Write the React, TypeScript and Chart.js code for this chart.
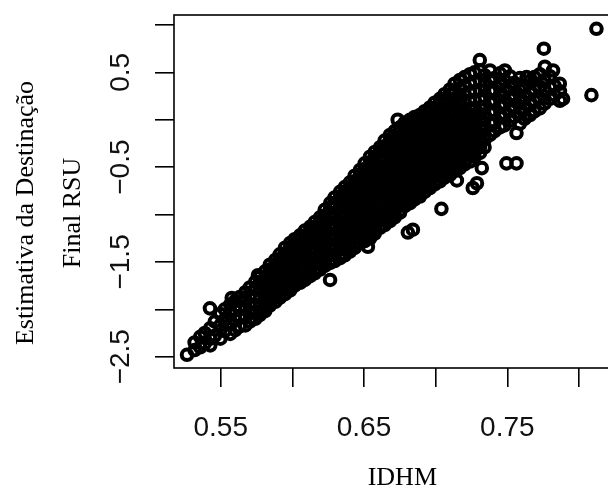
import React, { useEffect, useRef } from "react";
import { Chart, registerables } from "chart.js";

Chart.register(...registerables);

// ---- Data (IDHM vs. Estimativa da Destinação Final RSU) ----
// Each entry: [IDHM, list of RSU values seen around that IDHM]
const lowerTail: [number, number[]][] = [
  [0.5318, [-2.43, -2.35]],
  [0.5357, [-2.40, -2.29]],
  [0.5389, [-2.36, -2.25]],
  [0.5427, [-2.31, -2.20, -2.38]],
  [0.5459, [-2.13, -2.28]],
  [0.5497, [-2.05, -2.17, -2.31]],
  [0.5528, [-2.00, -2.11, -2.23]],
  [0.5566, [-1.95, -2.05, -2.16, -2.26]],
  [0.5601, [-1.91, -2.01, -2.11, -2.22]],
  [0.5633, [-1.87, -1.97, -2.07, -2.18]],
  [0.5672, [-1.82, -1.91, -2.00, -2.09, -2.17]],
  [0.5703, [-1.77, -1.86, -1.95, -2.04, -2.13]],
  [0.5741, [-1.71, -1.79, -1.87, -1.95, -2.03, -2.10]],
  [0.5772, [-1.66, -1.73, -1.80, -1.88, -1.95, -2.02, -2.06]],
];

const denseCore: [number, number[]][] = [
  [0.5810, [-1.60, -1.66, -1.71, -1.77, -1.82, -1.87, -1.93, -1.98, -2.02]],
  [0.5843, [-1.53, -1.58, -1.64, -1.69, -1.74, -1.80, -1.85, -1.90, -1.96]],
  [0.5881, [-1.48, -1.54, -1.60, -1.65, -1.71, -1.76, -1.82, -1.87, -1.92]],
  [0.5912, [-1.42, -1.47, -1.53, -1.58, -1.63, -1.69, -1.74, -1.79, -1.84, -1.88]],
  [0.5949, [-1.35, -1.41, -1.46, -1.52, -1.57, -1.62, -1.68, -1.73, -1.78, -1.84]],
  [0.5985, [-1.30, -1.35, -1.40, -1.46, -1.51, -1.56, -1.62, -1.67, -1.72, -1.77, -1.80]],
  [0.6016, [-1.26, -1.32, -1.37, -1.43, -1.48, -1.54, -1.59, -1.64, -1.70, -1.75]],
  [0.6054, [-1.22, -1.27, -1.33, -1.38, -1.44, -1.49, -1.55, -1.60, -1.66, -1.72]],
  [0.6087, [-1.17, -1.23, -1.28, -1.34, -1.39, -1.45, -1.50, -1.56, -1.61, -1.66, -1.69]],
  [0.6124, [-1.13, -1.18, -1.24, -1.29, -1.35, -1.40, -1.46, -1.51, -1.57, -1.62, -1.65]],
  [0.6156, [-1.08, -1.14, -1.19, -1.25, -1.30, -1.36, -1.41, -1.47, -1.52, -1.58, -1.62]],
  [0.6193, [-1.03, -1.08, -1.14, -1.19, -1.25, -1.30, -1.36, -1.41, -1.47, -1.52, -1.58]],
  [0.6226, [-0.95, -1.01, -1.06, -1.12, -1.17, -1.23, -1.28, -1.34, -1.39, -1.45, -1.50, -1.54]],
  [0.6264, [-0.88, -0.93, -0.99, -1.04, -1.10, -1.15, -1.21, -1.26, -1.32, -1.37, -1.43, -1.48, -1.51]],
  [0.6295, [-0.82, -0.88, -0.93, -0.99, -1.04, -1.10, -1.15, -1.21, -1.26, -1.32, -1.37, -1.43, -1.49]],
  [0.6333, [-0.76, -0.81, -0.87, -0.92, -0.98, -1.03, -1.09, -1.14, -1.20, -1.25, -1.31, -1.36, -1.42, -1.46]],
  [0.6366, [-0.71, -0.77, -0.82, -0.88, -0.93, -0.99, -1.04, -1.10, -1.15, -1.21, -1.26, -1.32, -1.37, -1.43]],
  [0.6402, [-0.66, -0.71, -0.77, -0.82, -0.88, -0.93, -0.99, -1.04, -1.10, -1.15, -1.21, -1.26, -1.32, -1.37, -1.39]],
  [0.6435, [-0.59, -0.65, -0.70, -0.76, -0.81, -0.87, -0.92, -0.98, -1.03, -1.09, -1.14, -1.20, -1.25, -1.31, -1.35]],
  [0.6472, [-0.53, -0.58, -0.64, -0.69, -0.75, -0.80, -0.86, -0.91, -0.97, -1.02, -1.08, -1.13, -1.19, -1.24, -1.30]],
  [0.6505, [-0.46, -0.52, -0.57, -0.63, -0.68, -0.74, -0.79, -0.85, -0.90, -0.96, -1.01, -1.07, -1.12, -1.18, -1.23, -1.28]],
  [0.6542, [-0.39, -0.45, -0.50, -0.56, -0.61, -0.67, -0.72, -0.78, -0.83, -0.89, -0.94, -1.00, -1.05, -1.11, -1.16, -1.22, -1.25]],
  [0.6575, [-0.34, -0.40, -0.45, -0.51, -0.56, -0.62, -0.67, -0.73, -0.78, -0.84, -0.89, -0.95, -1.00, -1.06, -1.11, -1.17, -1.20]],
  [0.6612, [-0.29, -0.34, -0.40, -0.45, -0.51, -0.56, -0.62, -0.67, -0.73, -0.78, -0.84, -0.89, -0.95, -1.00, -1.06, -1.11, -1.14]],
  [0.6644, [-0.22, -0.28, -0.33, -0.39, -0.44, -0.50, -0.55, -0.61, -0.66, -0.72, -0.77, -0.83, -0.88, -0.94, -0.99, -1.05, -1.11]],
  [0.6681, [-0.16, -0.21, -0.27, -0.32, -0.38, -0.43, -0.49, -0.54, -0.60, -0.65, -0.71, -0.76, -0.82, -0.87, -0.93, -0.98, -1.04, -1.07]],
  [0.6714, [-0.12, -0.18, -0.23, -0.29, -0.34, -0.40, -0.45, -0.51, -0.56, -0.62, -0.67, -0.73, -0.78, -0.84, -0.89, -0.95, -1.00, -1.03]],
  [0.6751, [-0.08, -0.13, -0.19, -0.24, -0.30, -0.35, -0.41, -0.46, -0.52, -0.57, -0.63, -0.68, -0.74, -0.79, -0.85, -0.90, -0.96, -0.98]],
  [0.6784, [-0.03, -0.09, -0.14, -0.20, -0.25, -0.31, -0.36, -0.42, -0.47, -0.53, -0.58, -0.64, -0.69, -0.75, -0.80, -0.86, -0.91]],
  [0.6821, [0.00, -0.05, -0.11, -0.16, -0.22, -0.27, -0.33, -0.38, -0.44, -0.49, -0.55, -0.60, -0.66, -0.71, -0.77, -0.82, -0.88]],
  [0.6853, [0.03, -0.03, -0.08, -0.14, -0.19, -0.25, -0.30, -0.36, -0.41, -0.47, -0.52, -0.58, -0.63, -0.69, -0.74, -0.80, -0.84]],
  [0.6890, [0.05, 0.00, -0.06, -0.11, -0.17, -0.22, -0.28, -0.33, -0.39, -0.44, -0.50, -0.55, -0.61, -0.66, -0.72, -0.77, -0.81]],
  [0.6923, [0.09, 0.03, -0.02, -0.08, -0.13, -0.19, -0.24, -0.30, -0.35, -0.41, -0.46, -0.52, -0.57, -0.63, -0.68, -0.74, -0.76]],
  [0.6960, [0.13, 0.08, 0.02, -0.03, -0.09, -0.14, -0.20, -0.25, -0.31, -0.36, -0.42, -0.47, -0.53, -0.58, -0.64, -0.69, -0.72]],
  [0.6993, [0.18, 0.12, 0.07, 0.01, -0.04, -0.10, -0.15, -0.21, -0.26, -0.32, -0.37, -0.43, -0.48, -0.54, -0.59, -0.65, -0.68]],
  [0.7030, [0.22, 0.17, 0.11, 0.06, 0.00, -0.05, -0.11, -0.16, -0.22, -0.27, -0.33, -0.38, -0.44, -0.49, -0.55, -0.60, -0.65]],
  [0.7062, [0.27, 0.21, 0.16, 0.10, 0.05, -0.01, -0.06, -0.12, -0.17, -0.23, -0.28, -0.34, -0.39, -0.45, -0.50, -0.56, -0.61]],
  [0.7100, [0.32, 0.27, 0.21, 0.16, 0.10, 0.05, -0.01, -0.06, -0.12, -0.17, -0.23, -0.28, -0.34, -0.39, -0.45, -0.50, -0.55, -0.58]],
  [0.7132, [0.38, 0.30, 0.22, 0.15, 0.08, 0.01, -0.05, -0.10, -0.16, -0.21, -0.27, -0.32, -0.38, -0.44, -0.50, -0.54]],
  [0.7169, [0.42, 0.33, 0.25, 0.17, 0.10, 0.03, -0.03, -0.08, -0.14, -0.19, -0.25, -0.30, -0.36, -0.42, -0.47, -0.51]],
  [0.7202, [0.45, 0.36, 0.27, 0.19, 0.11, 0.04, -0.02, -0.08, -0.14, -0.20, -0.26, -0.32, -0.38, -0.43, -0.47]],
  [0.7239, [0.48, 0.38, 0.29, 0.20, 0.12, 0.05, -0.01, -0.07, -0.13, -0.19, -0.25, -0.31, -0.37, -0.44]],
  [0.7271, [0.50, 0.40, 0.30, 0.21, 0.12, 0.05, -0.02, -0.08, -0.14, -0.21, -0.27, -0.33, -0.39]],
  [0.7309, [0.52, 0.41, 0.31, 0.21, 0.13, 0.06, -0.01, -0.08, -0.15, -0.22, -0.29, -0.35]],
];

const upperCloud: [number, number[]][] = [
  [0.7341, [0.47, 0.36, 0.24, 0.13, 0.02, -0.10, -0.21, -0.29]],
  [0.7379, [0.52, 0.41, 0.30, 0.18, 0.07, -0.04, -0.16]],
  [0.7411, [0.44, 0.31, 0.20, 0.09, -0.03, -0.12]],
  [0.7448, [0.49, 0.37, 0.25, 0.14, 0.03, -0.08]],
  [0.7480, [0.42, 0.30, 0.17, 0.06, -0.06]],
  [0.7518, [0.46, 0.34, 0.22, 0.10, -0.01]],
  [0.7550, [0.39, 0.26, 0.14, 0.03]],
  [0.7588, [0.44, 0.31, 0.19, 0.07, -0.04]],
  [0.7620, [0.36, 0.24, 0.12, 0.01]],
  [0.7658, [0.41, 0.28, 0.16, 0.05]],
  [0.7689, [0.45, 0.32, 0.20, 0.09]],
  [0.7727, [0.48, 0.35, 0.23, 0.12]],
  [0.7759, [0.42, 0.30, 0.17]],
  [0.7797, [0.46, 0.34, 0.22]],
  [0.7829, [0.36, 0.26]],
  [0.7867, [0.30, 0.20]],
];

const outlierIdhm = [0.5265, 0.5425, 0.5577, 0.5760, 0.6263, 0.6527, 0.6806, 0.6841, 0.6735, 0.7040, 0.7259, 0.7322, 0.7148, 0.7288, 0.7494, 0.7564, 0.7564, 0.7308, 0.7483, 0.7634, 0.7755, 0.7762, 0.7819, 0.7866, 0.7889, 0.8087, 0.8122];
const outlierRsu = [-2.48, -1.99, -1.88, -1.64, -1.69, -1.34, -1.19, -1.16, 0.00, -0.94, -0.72, -0.51, -0.64, -0.67, -0.46, -0.46, -0.14, 0.63, 0.52, 0.45, 0.75, 0.56, 0.52, 0.38, 0.22, 0.26, 0.96];

// ---- Axes ----
const xTicks = [0.55, 0.6, 0.65, 0.7, 0.75, 0.8];
const xTickLabels = ["0.55", "", "0.65", "", "0.75", ""];
const yTicks = [-2.5, -2, -1.5, -1, -0.5, 0, 0.5, 1];
const yTickLabels = ["\u22122.5", "", "\u22121.5", "", "\u22120.5", "", "0.5", ""];
const xRange = [0.5174, 0.8361];
const yRange = [-2.6192, 1.1055];
const xTitle = "IDHM";
const yTitleLines = ["Estimativa da Destinação", "Final RSU"];

const SANS = "'Liberation Sans', Arial, Helvetica, sans-serif";
const SERIF = "'Liberation Serif', 'Times New Roman', Times, serif";

export default function App() {
  const ref = useRef<HTMLCanvasElement | null>(null);

  useEffect(() => {
    const canvas = ref.current;
    if (!canvas) return;

    const points: { x: number; y: number }[] = [];
    [lowerTail, denseCore, upperCloud].forEach((group) =>
      group.forEach(([x, ys]) => ys.forEach((y) => points.push({ x, y })))
    );
    outlierIdhm.forEach((x, i) => points.push({ x, y: outlierRsu[i] }));

    const textPlugin = {
      id: "rFrameAndText",
      afterDraw(chart: any) {
        const ctx = chart.ctx as CanvasRenderingContext2D;
        const ca = chart.chartArea;
        ctx.save();
        ctx.strokeStyle = "#000";
        ctx.lineWidth = 1.6;
        ctx.strokeRect(ca.left, ca.top, ca.right - ca.left, ca.bottom - ca.top);

        // y tick labels (rotated, R style)
        ctx.fillStyle = "#111";
        ctx.font = `28px ${SANS}`;
        ctx.textAlign = "center";
        ctx.textBaseline = "middle";
        const ys = chart.scales.y;
        yTicks.forEach((v, i) => {
          const lab = yTickLabels[i];
          if (!lab) return;
          const py = ys.getPixelForValue(v);
          ctx.save();
          ctx.translate(ca.left - 53, py);
          ctx.rotate(-Math.PI / 2);
          ctx.fillText(lab, 0, 0);
          ctx.restore();
        });

        // y title (two lines)
        ctx.fillStyle = "#000";
        ctx.font = `26px ${SERIF}`;
        ctx.textBaseline = "alphabetic";
        const baseX = [33, 80];
        yTitleLines.forEach((line, i) => {
          ctx.save();
          ctx.translate(baseX[i], 213);
          ctx.rotate(-Math.PI / 2);
          ctx.fillText(line, 0, 0);
          ctx.restore();
        });

        // x title
        ctx.textAlign = "center";
        ctx.fillText(xTitle, (ca.left + ca.right) / 2, 485);
        ctx.restore();
      },
    };

    const chart = new Chart(canvas, {
      type: "scatter",
      data: {
        datasets: [
          {
            data: points,
            pointStyle: "circle",
            pointRadius: 5.3,
            pointBorderWidth: 4.0,
            pointBorderColor: "#000",
            pointBackgroundColor: "rgba(0,0,0,0)",
            showLine: false,
          } as any,
        ],
      },
      options: {
        responsive: false,
        animation: false,
        events: [],
        layout: { padding: { left: 0, top: 15, right: 9, bottom: 0 } },
        plugins: { legend: { display: false }, tooltip: { enabled: false } },
        scales: {
          x: {
            type: "linear",
            min: xRange[0],
            max: xRange[1],
            afterBuildTicks: (s: any) => {
              s.ticks = xTicks.map((v) => ({ value: v }));
            },
            afterFit: (s: any) => {
              s.height = 123;
            },
            border: { display: false },
            grid: {
              drawOnChartArea: false,
              drawTicks: true,
              tickLength: 19,
              color: "#000",
              lineWidth: 1.6,
            },
            ticks: {
              autoSkip: false,
              maxRotation: 0,
              minRotation: 0,
              padding: 24,
              color: "#111",
              font: { family: SANS, size: 28 },
              callback: (_v: any, i: number) => xTickLabels[i],
            },
          },
          y: {
            type: "linear",
            min: yRange[0],
            max: yRange[1],
            afterBuildTicks: (s: any) => {
              s.ticks = yTicks.map((v) => ({ value: v }));
            },
            afterFit: (s: any) => {
              s.width = 174;
            },
            border: { display: false },
            grid: {
              drawOnChartArea: false,
              drawTicks: true,
              tickLength: 19,
              color: "#000",
              lineWidth: 1.6,
            },
            ticks: {
              display: false,
            },
          },
        },
      },
      plugins: [textPlugin],
    } as any);

    return () => chart.destroy();
  }, []);

  return (
    <div
      style={{
        position: "absolute",
        left: 0,
        top: 0,
        width: 608,
        height: 491,
        overflow: "hidden",
        background: "#fff",
      }}
    >
      <canvas ref={ref} width={640} height={491} style={{ display: "block" }} />
    </div>
  );
}
